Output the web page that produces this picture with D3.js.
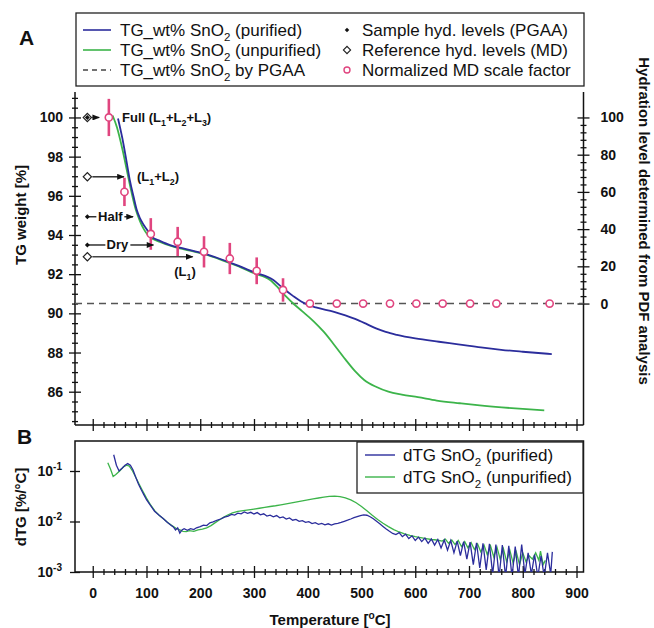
<!DOCTYPE html>
<html><head><meta charset="utf-8">
<script src="https://cdn.jsdelivr.net/npm/d3@7"></script>
<style>body{margin:0;background:#fff}svg{display:block;font-family:"Liberation Sans",Arial,Helvetica,sans-serif}</style>
</head><body><svg id="c" width="654" height="628"></svg>
<script>
// ---------------- DATA ----------------
const tempTicks = [0,100,200,300,400,500,600,700,800,900];
const tgTicks = [86,88,90,92,94,96,98,100];
const hydTicks = [0,20,40,60,80,100];
const dtgTicks = [1e-3,1e-2,1e-1];

// TG curve, purified (blue)
const tgPurT = [47,55,62,69,76,82,88,94,100,110,125,144,170,206,240,268,300,336,354,373,387,400,415,449,470,488,510,527,545,566,600,644,680,722,760,800,854];
const tgPurW = [99.95,98.95,97.9,96.8,95.95,95.27,94.85,94.55,94.3,93.9,93.7,93.48,93.3,93.06,92.75,92.46,92.1,91.7,91.28,90.88,90.62,90.44,90.3,90.08,89.9,89.72,89.45,89.23,89.05,88.9,88.72,88.55,88.42,88.26,88.14,88.04,87.92];
// TG curve, unpurified (green)
const tgUnpT = [37,45,55,65,72,80,88,95,102,112,125,144,170,206,240,268,300,330,345,360,375,390,410,430,449,470,488,505,527,550,575,605,640,683,720,761,800,840];
const tgUnpW = [100.1,99.5,98.4,97.1,96.2,95.3,94.7,94.3,94.02,93.8,93.65,93.45,93.27,93.03,92.72,92.43,92.05,91.7,91.3,90.85,90.45,90.1,89.62,89.05,88.4,87.65,87.05,86.6,86.25,86.0,85.85,85.72,85.55,85.41,85.3,85.2,85.12,85.05];
// TG by PGAA (dashed level)
const pgaaLevel = 90.5;

// Normalized MD scale factor (hydration level, right axis) with error bars
const hydT     = [30,59,108,158,207,255,305,354,404,454,503,553,602,651,702,751,850];
const hydLevel = [100,60,37.4,33.2,27.8,24.2,17.6,7.3,0,0,0,0,0,0,0,0,0];
const hydErr   = [10,7.6,8.5,8,8.4,8.4,7.2,6.3,0,0,0,0,0,0,0,0,0];

// Reference hydration levels (MD, open diamonds) and sample levels (PGAA, filled)
const levelMarkT = -10;
const refLevels   = [100, 96.97, 92.89];
const refArrowT   = [12, 58, 186];
const sampleLevels = [100, 94.93, 93.49];
const sampleArrowT = [12, 75, 113];

// dTG purified (blue) [T, %/°C]
const dtgPurified = [[39,0.21],[44,0.13],[49,0.10],[55,0.115],[60,0.13],[65,0.14],[70,0.13],[75,0.105],[80,0.075],[85,0.055],[90,0.043],[95,0.034],[100,0.027],[107,0.021],[115,0.016],[123,0.0135],[131,0.0115],[138,0.0098],[145,0.0085],[150,0.0078],[154,0.0068],[158,0.0075],[162,0.0059],[166,0.0068],[170,0.0072],[176,0.0067],[182,0.0072],[188,0.0069],[193,0.0075],[200,0.0079],[206,0.0085],[212,0.0083],[218,0.0094],[224,0.0098],[232,0.0107],[238,0.0112],[245,0.0122],[252,0.0128],[258,0.0138],[264,0.0134],[270,0.0146],[276,0.0142],[282,0.0155],[288,0.0145],[294,0.0152],[300,0.0141],[306,0.0150],[312,0.0136],[318,0.0142],[324,0.0128],[330,0.0134],[336,0.0124],[342,0.0131],[348,0.0118],[354,0.0123],[360,0.0112],[366,0.0118],[372,0.0106],[378,0.0110],[384,0.0101],[390,0.0104],[396,0.0096],[402,0.0099],[408,0.0091],[414,0.0095],[420,0.0088],[426,0.0092],[432,0.0086],[438,0.0090],[444,0.0085],[450,0.0090],[456,0.0092],[462,0.0096],[468,0.0101],[474,0.0106],[480,0.0112],[486,0.0119],[492,0.0125],[498,0.0131],[504,0.0135],[510,0.0133],[516,0.0124],[522,0.0113],[528,0.0101],[534,0.0090],[540,0.0080],[546,0.0071],[552,0.0064],[558,0.0058],[564,0.0055],[570,0.0060],[576,0.0050],[582,0.0056],[588,0.0046],[594,0.0052],[600,0.0042],[606,0.0049],[612,0.0040],[618,0.0047],[624,0.0037],[630,0.0045],[636,0.0034],[642,0.0044],[648,0.0030],[654,0.0043],[660,0.0027],[666,0.0042],[672,0.0024],[678,0.0041],[684,0.0021],[690,0.0040],[696,0.0018],[702,0.0039],[708,0.0014],[714,0.0038],[720,0.0012],[726,0.0037],[732,0.0011],[738,0.0036],[744,0.0009],[750,0.0035],[756,0.0008],[762,0.0034],[768,0.0008],[774,0.0033],[780,0.0008],[786,0.0032],[792,0.0008],[798,0.0035],[804,0.0009],[810,0.0024],[816,0.0009],[822,0.0022],[828,0.0008],[834,0.0021],[840,0.0008],[846,0.0024],[852,0.0009],[855,0.0025]];
// dTG unpurified (green)
const dtgUnpurified = [[28,0.145],[33,0.11],[38,0.078],[43,0.085],[50,0.10],[57,0.12],[63,0.13],[68,0.125],[74,0.10],[80,0.075],[86,0.056],[92,0.042],[100,0.029],[108,0.021],[116,0.016],[124,0.0132],[132,0.0112],[140,0.0094],[148,0.0082],[155,0.0073],[162,0.0068],[168,0.0064],[174,0.0063],[180,0.0066],[188,0.0064],[196,0.0068],[204,0.0071],[212,0.0075],[220,0.0083],[228,0.0095],[236,0.0108],[244,0.0122],[252,0.0136],[260,0.0148],[270,0.0158],[280,0.0164],[290,0.0170],[300,0.0176],[310,0.0183],[320,0.0190],[330,0.0198],[340,0.0205],[350,0.0214],[360,0.0224],[370,0.0234],[380,0.0245],[390,0.0256],[400,0.0268],[410,0.0280],[420,0.0292],[430,0.0305],[440,0.0315],[450,0.0318],[460,0.0312],[470,0.0295],[480,0.0268],[490,0.0235],[500,0.0198],[510,0.0163],[520,0.0133],[530,0.0110],[540,0.0092],[550,0.0079],[560,0.0069],[570,0.0062],[580,0.0057],[590,0.0053],[600,0.0050],[610,0.0048],[620,0.0046],[630,0.0044],[640,0.0043],[650,0.0041],[656,0.0045],[662,0.0037],[668,0.0043],[674,0.0035],[680,0.0042],[686,0.0032],[692,0.0040],[698,0.0030],[704,0.0038],[710,0.0028],[716,0.0036],[722,0.0025],[728,0.0034],[734,0.0022],[740,0.0033],[746,0.0020],[752,0.0031],[758,0.0018],[764,0.0029],[770,0.0016],[776,0.0027],[782,0.0015],[788,0.0025],[794,0.0014],[800,0.0024],[806,0.0016],[812,0.0021],[818,0.0018],[824,0.0024],[830,0.0017],[833,0.0026],[838,0.0014],[842,0.0017]];

// ---------------- DRAWING ----------------
const BLUE = "#2b2d9c", GREEN = "#3cb44a", PINK = "#e0457f", FONT = "\"Liberation Sans\",Arial,sans-serif";
const svg = d3.select("#c");
const L = 75, R = 583.5;
const x = d3.scaleLinear().domain([-33, 913]).range([L, R]);
const yA = d3.scaleLinear().domain([84.3, 101.3]).range([425, 92]);
const yH = d3.scaleLinear().domain([0, 100]).range([yA(pgaaLevel), yA(100)]);
const yB = d3.scaleLog().domain([1e-3, Math.pow(10, -0.406)]).range([572, 441]);

function rich(g, px, py, parts, size, weight, anchor) {
  const t = g.append("text").attr("x", px).attr("y", py).attr("font-size", size)
    .attr("font-weight", weight || "normal").attr("text-anchor", anchor || "start").attr("fill", "#111");
  let off = 0;
  parts.forEach(p => {
    const isSup = Array.isArray(p) && p.sup;
    const isSub = Array.isArray(p) && !isSup;
    const txt = Array.isArray(p) ? p[0] : p;
    const ts = t.append("tspan").text(txt);
    const target = isSup ? -size * 0.42 : (isSub ? size * 0.3 : 0);
    if (target !== off) { ts.attr("dy", target - off); off = target; }
    if (isSub || isSup) ts.attr("font-size", size * 0.68);
  });
  return t;
}
function sup(s) { const a = [s]; a.sup = true; return a; }

function styleAxis(g, len, horiz) {
  g.select(".domain").remove();
  g.selectAll(".tick line").attr("stroke", "#111").attr("stroke-width", 1.3);
  if (horiz) g.selectAll(".tick line").attr("y1", -len).attr("y2", len);
  else g.selectAll(".tick line").attr("x1", -len).attr("x2", len);
  g.selectAll("text").attr("font-family", FONT).attr("font-weight", "bold").attr("font-size", 14).attr("fill", "#111");
}
const minorT = d3.range(0, 901, 20).filter(v => v % 100 !== 0);

// defs
const defs = svg.append("defs");
defs.append("marker").attr("id", "arr").attr("viewBox", "0 0 10 8").attr("refX", 9).attr("refY", 4)
  .attr("markerWidth", 8).attr("markerHeight", 6).attr("markerUnits", "userSpaceOnUse").attr("orient", "auto")
  .append("path").attr("d", "M0,0 L10,4 L0,8 Z").attr("fill", "#111");
defs.append("clipPath").attr("id", "clipB").append("rect").attr("x", L).attr("y", 441).attr("width", R - L).attr("height", 131);
defs.append("clipPath").attr("id", "clipA").append("rect").attr("x", L).attr("y", 92).attr("width", R - L).attr("height", 333);

// ===== Panel A =====
const gA = svg.append("g");
gA.append("line").attr("x1", L).attr("x2", L).attr("y1", 92).attr("y2", 425).attr("stroke", "#111").attr("stroke-width", 1.5);
gA.append("line").attr("x1", R).attr("x2", R).attr("y1", 92).attr("y2", 425).attr("stroke", "#111").attr("stroke-width", 1.5);
gA.append("line").attr("x1", L).attr("x2", R).attr("y1", 425).attr("y2", 425).attr("stroke", "#111").attr("stroke-width", 1.5);
gA.append("g").attr("transform", `translate(${L},0)`)
  .call(d3.axisLeft(yA).tickValues(tgTicks).tickSize(6).tickPadding(6).tickFormat(d3.format("d"))).call(g => styleAxis(g, 6, false));
gA.append("g").attr("transform", `translate(${L},0)`)
  .call(d3.axisLeft(yA).tickValues(d3.range(84.5, 101.01, 0.5).filter(v => v % 2 !== 0)).tickSize(3).tickFormat("")).call(g => styleAxis(g, 3, false));
gA.append("g").attr("transform", `translate(${R},0)`)
  .call(d3.axisRight(yH).tickValues(hydTicks).tickSize(6).tickPadding(11).tickFormat(d3.format("d"))).call(g => styleAxis(g, 6, false));
gA.append("g").attr("transform", `translate(${R},0)`)
  .call(d3.axisRight(yH).tickValues(d3.range(0, 101, 4).filter(v => v % 20 !== 0)).tickSize(3).tickFormat("")).call(g => styleAxis(g, 3, false));
gA.append("g").attr("transform", "translate(0,425)")
  .call(d3.axisBottom(x).tickValues(tempTicks).tickSize(6).tickFormat("")).call(g => styleAxis(g, 6, true));
gA.append("g").attr("transform", "translate(0,425)")
  .call(d3.axisBottom(x).tickValues(minorT).tickSize(3).tickFormat("")).call(g => styleAxis(g, 3, true));

gA.append("line").attr("x1", L).attr("x2", R).attr("y1", yA(pgaaLevel)).attr("y2", yA(pgaaLevel))
  .attr("stroke", "#555").attr("stroke-width", 1.6).attr("stroke-dasharray", "7,5");

const lineA = d3.line().x(d => x(d[0])).y(d => yA(d[1])).curve(d3.curveMonotoneX);
const cA = gA.append("g").attr("clip-path", "url(#clipA)");
cA.append("path").datum(d3.zip(tgUnpT, tgUnpW)).attr("d", lineA).attr("fill", "none").attr("stroke", GREEN).attr("stroke-width", 1.8);
cA.append("path").datum(d3.zip(tgPurT, tgPurW)).attr("d", lineA).attr("fill", "none").attr("stroke", BLUE).attr("stroke-width", 1.8);

const hyd = hydT.map((t, i) => ({ t, h: hydLevel[i], e: hydErr[i] }));
gA.selectAll(".eb").data(hyd.filter(d => d.e > 0)).enter().append("line")
  .attr("x1", d => x(d.t)).attr("x2", d => x(d.t)).attr("y1", d => yH(d.h + d.e)).attr("y2", d => yH(d.h - d.e))
  .attr("stroke", PINK).attr("stroke-width", 2.6);
gA.selectAll(".hm").data(hyd).enter().append("circle")
  .attr("cx", d => x(d.t)).attr("cy", d => yH(d.h)).attr("r", 3.6)
  .attr("fill", "#fff").attr("stroke", PINK).attr("stroke-width", 1.6);

const ann = gA.append("g");
function arrow(x1, x2, yy, col) {
  ann.append("line").attr("x1", x1).attr("x2", x2).attr("y1", yy).attr("y2", yy)
    .attr("stroke", col || "#111").attr("stroke-width", 1.3).attr("marker-end", "url(#arr)");
}
arrow(x(levelMarkT) + 5, x(refArrowT[0]), yA(refLevels[0]));
arrow(x(levelMarkT) + 5, x(refArrowT[1]), yA(refLevels[1]));
arrow(x(levelMarkT) + 5, x(refArrowT[2]), yA(refLevels[2]), "#444");
ann.append("line").attr("x1", x(levelMarkT)).attr("x2", x(levelMarkT) + 9).attr("y1", yA(sampleLevels[1])).attr("y2", yA(sampleLevels[1])).attr("stroke", "#111").attr("stroke-width", 1.3);
arrow(x(levelMarkT) + 37, x(sampleArrowT[1]), yA(sampleLevels[1]));
ann.append("text").attr("x", x(levelMarkT) + 23).attr("y", yA(sampleLevels[1]) + 4.5).attr("text-anchor", "middle")
  .attr("font-size", 13).attr("font-weight", "bold").attr("fill", "#111").text("Half");
ann.append("line").attr("x1", x(levelMarkT)).attr("x2", x(levelMarkT) + 18).attr("y1", yA(sampleLevels[2])).attr("y2", yA(sampleLevels[2])).attr("stroke", "#111").attr("stroke-width", 1.3);
arrow(x(levelMarkT) + 43, x(sampleArrowT[2]), yA(sampleLevels[2]));
ann.append("text").attr("x", x(levelMarkT) + 30).attr("y", yA(sampleLevels[2]) + 4.5).attr("text-anchor", "middle")
  .attr("font-size", 13).attr("font-weight", "bold").attr("fill", "#111").text("Dry");

const sq = d3.symbol().type(d3.symbolSquare);
ann.selectAll(".ref").data(refLevels).enter().append("path")
  .attr("d", sq.size(34)()).attr("transform", d => `translate(${x(levelMarkT)},${yA(d)}) rotate(45)`)
  .attr("fill", "#fff").attr("stroke", "#222").attr("stroke-width", 1.2);
ann.selectAll(".smp").data(sampleLevels).enter().append("path")
  .attr("d", sq.size(12)()).attr("transform", d => `translate(${x(levelMarkT)},${yA(d)}) rotate(45)`)
  .attr("fill", "#111");

rich(ann, 122, yA(100) + 4.5, ["Full (L", ["1"], "+L", ["2"], "+L", ["3"], ")"], 13, "bold");
rich(ann, 137, yA(refLevels[1]) + 4.5, ["(L", ["1"], "+L", ["2"], ")"], 13, "bold");
rich(ann, 185, yA(refLevels[2]) + 19, ["(L", ["1"], ")"], 13, "bold", "middle");

svg.append("text").attr("transform", "translate(26,215) rotate(-90)").attr("text-anchor", "middle")
  .attr("font-size", 15).attr("font-weight", "bold").attr("fill", "#111").text("TG weight [%]");
svg.append("text").attr("transform", "translate(639,221) rotate(90)").attr("text-anchor", "middle")
  .attr("font-size", 15).attr("font-weight", "bold").attr("fill", "#111").text("Hydration level determined from PDF analysis");
svg.append("text").attr("x", 19).attr("y", 45).attr("font-size", 21).attr("font-weight", "bold").attr("fill", "#111").text("A");
svg.append("text").attr("x", 17).attr("y", 444).attr("font-size", 21).attr("font-weight", "bold").attr("fill", "#111").text("B");

// Legend A
const lg = svg.append("g");
lg.append("rect").attr("x", 76).attr("y", 13).attr("width", 508).attr("height", 73).attr("fill", "#fff").attr("stroke", "#222").attr("stroke-width", 1.3);
const rowsY = [30, 50, 70];
lg.append("line").attr("x1", 83).attr("x2", 111).attr("y1", rowsY[0]).attr("y2", rowsY[0]).attr("stroke", BLUE).attr("stroke-width", 1.6);
lg.append("line").attr("x1", 83).attr("x2", 111).attr("y1", rowsY[1]).attr("y2", rowsY[1]).attr("stroke", GREEN).attr("stroke-width", 1.6);
lg.append("line").attr("x1", 83).attr("x2", 111).attr("y1", rowsY[2]).attr("y2", rowsY[2]).attr("stroke", "#444").attr("stroke-width", 1.4).attr("stroke-dasharray", "5,4");
rich(lg, 120, rowsY[0] + 6, ["TG_wt% SnO", ["2"], " (purified)"], 17);
rich(lg, 120, rowsY[1] + 6, ["TG_wt% SnO", ["2"], " (unpurified)"], 17);
rich(lg, 120, rowsY[2] + 6, ["TG_wt% SnO", ["2"], " by PGAA"], 17);
lg.append("path").attr("d", sq.size(10)()).attr("transform", `translate(347,${rowsY[0]}) rotate(45)`).attr("fill", "#111");
lg.append("path").attr("d", sq.size(26)()).attr("transform", `translate(347,${rowsY[1]}) rotate(45)`).attr("fill", "#fff").attr("stroke", "#222").attr("stroke-width", 1.1);
lg.append("circle").attr("cx", 347).attr("cy", rowsY[2]).attr("r", 3).attr("fill", "#fff").attr("stroke", PINK).attr("stroke-width", 1.4);
rich(lg, 362, rowsY[0] + 6, ["Sample hyd. levels (PGAA)"], 17);
rich(lg, 362, rowsY[1] + 6, ["Reference hyd. levels (MD)"], 17);
rich(lg, 362, rowsY[2] + 6, ["Normalized MD scale factor"], 17);

// ===== Panel B =====
const gB = svg.append("g");
gB.append("rect").attr("x", L).attr("y", 441).attr("width", R - L).attr("height", 131).attr("fill", "none").attr("stroke", "#111").attr("stroke-width", 1.5);
gB.append("g").attr("transform", `translate(${L},0)`)
  .call(d3.axisLeft(yB).tickValues(dtgTicks).tickSize(6).tickPadding(7).tickFormat(d => "")).call(g => styleAxis(g, 5, false))
  .call(g => g.selectAll(".tick text").each(function (d) {
    const t = d3.select(this);
    t.append("tspan").text("10");
    t.append("tspan").attr("dy", -6).attr("font-size", 10).text(String(Math.round(Math.log10(d))));
  }));
gB.append("g").attr("transform", "translate(0,572)")
  .call(d3.axisBottom(x).tickValues(tempTicks).tickSize(6).tickPadding(10).tickFormat(d3.format("d"))).call(g => styleAxis(g, 6, true));
gB.append("g").attr("transform", "translate(0,572)")
  .call(d3.axisBottom(x).tickValues(minorT).tickSize(3).tickFormat("")).call(g => styleAxis(g, 3, true));

const lineB = d3.line().x(d => x(d[0])).y(d => yB(d[1]));
const cB = gB.append("g").attr("clip-path", "url(#clipB)");
cB.append("path").datum(dtgUnpurified).attr("d", lineB).attr("fill", "none").attr("stroke", GREEN).attr("stroke-width", 1.3);
cB.append("path").datum(dtgPurified).attr("d", lineB).attr("fill", "none").attr("stroke", BLUE).attr("stroke-width", 1.3);

// Legend B
const lgB = svg.append("g");
lgB.append("rect").attr("x", 357).attr("y", 442).attr("width", 226).attr("height", 51).attr("fill", "#fff").attr("stroke", "#222").attr("stroke-width", 1.3);
lgB.append("line").attr("x1", 365).attr("x2", 395).attr("y1", 455).attr("y2", 455).attr("stroke", BLUE).attr("stroke-width", 1.4);
lgB.append("line").attr("x1", 365).attr("x2", 395).attr("y1", 477).attr("y2", 477).attr("stroke", GREEN).attr("stroke-width", 1.4);
rich(lgB, 403, 461, ["dTG SnO", ["2"], " (purified)"], 17);
rich(lgB, 403, 483, ["dTG SnO", ["2"], " (unpurified)"], 17);

rich(svg, 330, 625, ["Temperature [", sup("o"), "C]"], 15, "bold", "middle");
svg.append("text").attr("transform", "translate(26,507) rotate(-90)").attr("text-anchor", "middle")
  .attr("font-size", 15).attr("font-weight", "bold").attr("fill", "#111").text("dTG [%/°C]");
</script></body></html>
